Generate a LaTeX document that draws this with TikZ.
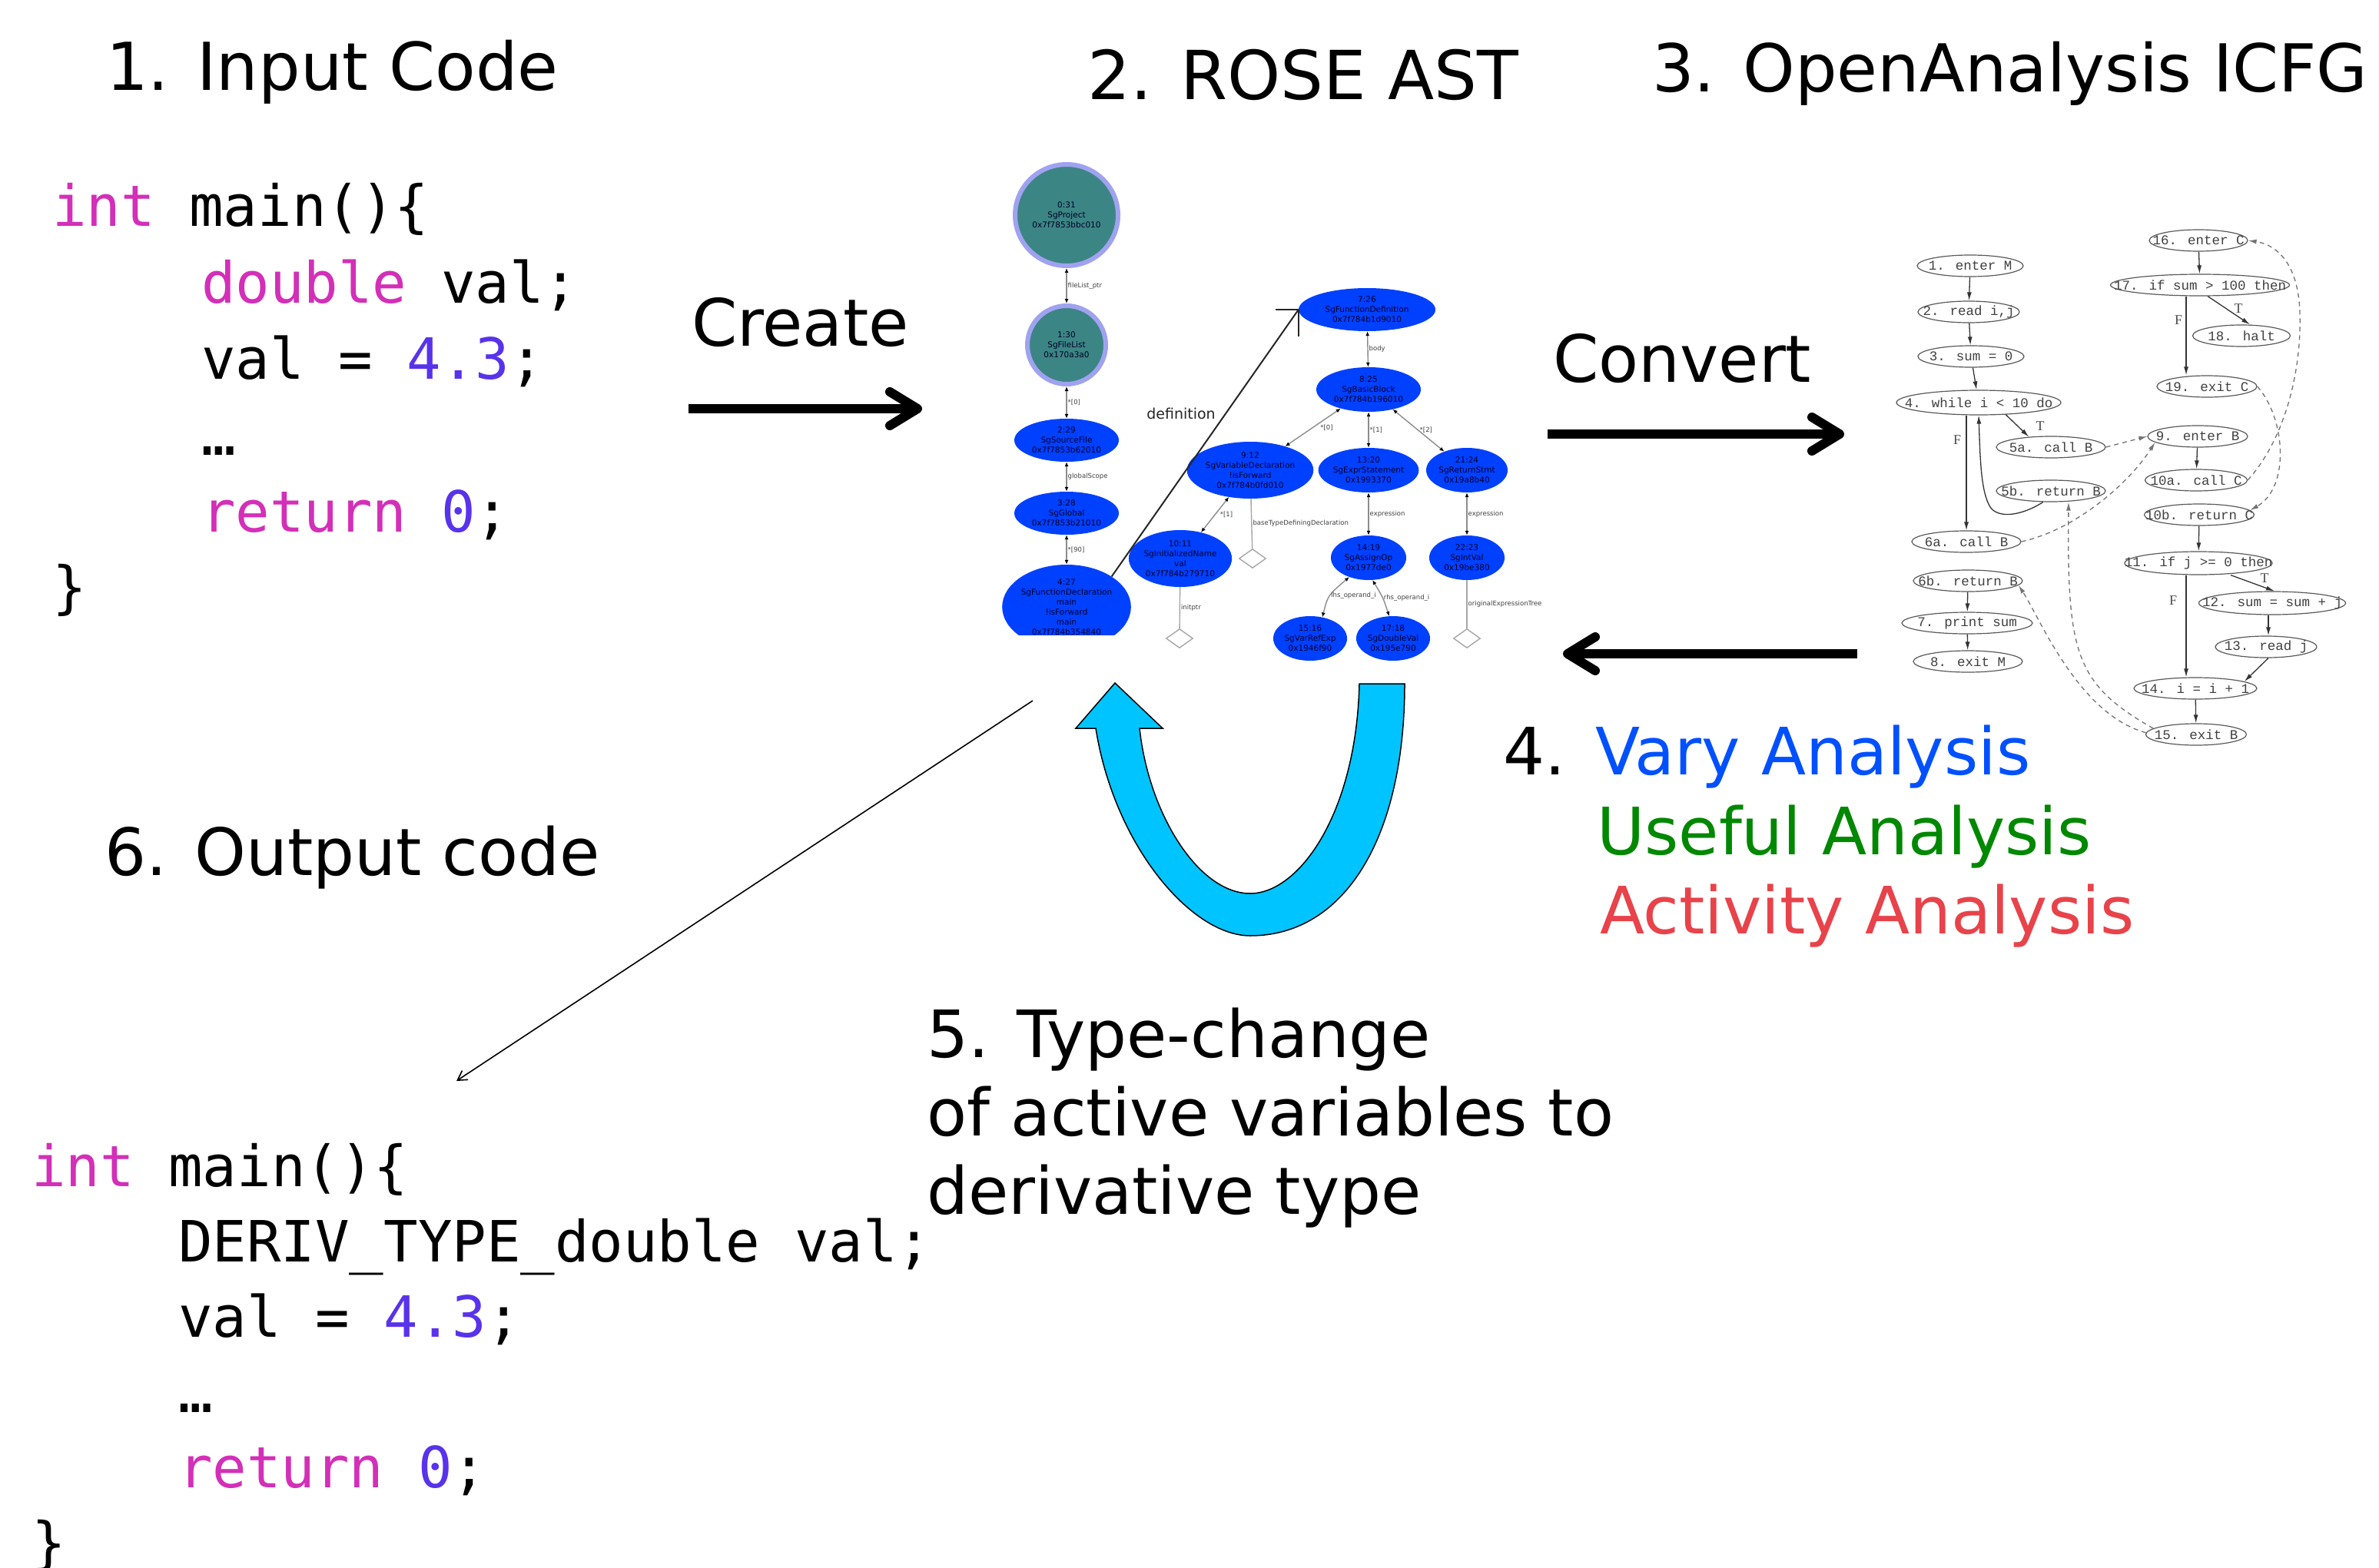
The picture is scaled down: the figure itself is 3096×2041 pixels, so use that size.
\documentclass[tikz,border=0pt]{standalone}
\usepackage{fontspec}
\setmainfont{DejaVu Sans}
\newfontfamily\codefont{DejaVu Sans Mono}
\newfontfamily\cfgfont{Liberation Mono}
\newfontfamily\tffont{Liberation Serif}
\usetikzlibrary{arrows.meta,shapes.geometric}

\definecolor{keyword}{RGB}{211,47,184}
\definecolor{number}{RGB}{88,51,235}
\definecolor{varyblue}{RGB}{0,80,255}
\definecolor{usefulgreen}{RGB}{0,136,0}
\definecolor{activityred}{RGB}{232,67,74}
\definecolor{astblue}{RGB}{0,64,255}
\definecolor{astteal}{RGB}{60,133,133}
\definecolor{asthalo}{RGB}{160,162,240}
\definecolor{loopcyan}{RGB}{0,196,255}

\tikzset{
  heading/.style={anchor=base west, inner sep=0pt, font=\fontsize{85}{100}\selectfont},
  codeline/.style={anchor=base west, inner sep=0pt, font=\codefont\fontsize{74}{90}\selectfont},
  bigarrow/.style={line width=12pt, -{Straight Barb[length=36pt,width=44pt,round]}},
  astnode/.style={ellipse, fill=astblue, inner sep=0pt, align=center, text=black!85!blue,
    font=\fontsize{10.5}{13}\selectfont},
  astroot/.style={astnode, fill=astteal, draw=asthalo, line width=6pt},
  astedge/.style={draw=black!45, line width=1.4pt,
    {Latex[length=6pt,width=5pt,black]}-{Latex[length=6pt,width=5pt,black]}},
  astleaf/.style={draw=black!35, line width=1.4pt},
  astlabel/.style={anchor=west, inner sep=1pt, text=black!75, font=\fontsize{8.5}{10}\selectfont},
  nullptr/.style={diamond, draw=black!35, line width=1.4pt, inner sep=0pt,
    minimum width=35pt, minimum height=25pt},
  defedge/.style={draw=black!85, line width=2pt},
  cfg/.style={ellipse, draw=black!65, line width=1.2pt, inner sep=0pt, minimum height=28pt,
    text=black!75, font=\cfgfont\fontsize{17.5}{20}\selectfont,
    execute at begin node={\hbox to 0pt\bgroup\hss}, execute at end node={\hss\egroup}},
  cfgarrow/.style={draw=black!80, line width=1.3pt, -{Latex[length=11pt,width=6pt]}},
  cfgcall/.style={cfgarrow, draw=black!55, dash pattern=on 6pt off 5pt},
  branch/.style={inner sep=0pt, text=black!70, font=\tffont\fontsize{18}{18}\selectfont},
}

\begin{document}
\begin{tikzpicture}[x=1pt,y=-1pt]
\useasboundingbox[fill=white] (0,0) rectangle (3096,2041);

% headings
\node[heading, font=\fontsize{86}{100}\selectfont] (ttlinput) at (138,118) {1. Input Code};
\node[heading, font=\fontsize{88}{100}\selectfont] (ttlast) at (1415,130) {2. ROSE AST};
\node[heading, font=\fontsize{86}{100}\selectfont] (ttlicfg) at (2150,120) {3. OpenAnalysis ICFG};
\node[heading] (create) at (900,450) {Create};
\node[heading] (convert) at (2021,497) {Convert};
\node[heading] (ttloutput) at (136,1139) {6. Output code};
\node[heading] (num4) at (1956,1008) {4.};
\node[heading, text=varyblue] (vary) at (2076,1008) {Vary Analysis};
\node[heading, text=usefulgreen] (useful) at (2078,1112) {Useful Analysis};
\node[heading, text=activityred] (activity) at (2082,1215) {Activity Analysis};
\node[heading] (tc1) at (1206,1376) {5. Type-change};
\node[heading] (tc2) at (1206,1478) {of active variables to};
\node[heading] (tc3) at (1206,1580) {derivative type};

% input code
\node[codeline] (in1) at (68,295) {\textcolor{keyword}{int} main()\{};
\node[codeline] (in2) at (262,394) {\textcolor{keyword}{double} val;};
\node[codeline] (in3) at (262,493) {val = \textcolor{number}{4.3};};
\node[codeline] (in4) at (262,592) {…};
\node[codeline] (in5) at (262,692) {\textcolor{keyword}{return} \textcolor{number}{0};};
\node[codeline] (in6) at (68,790) {\}};

% output code
\node[codeline] (out1) at (41,1544) {\textcolor{keyword}{int} main()\{};
\node[codeline] (out2) at (232,1642) {DERIV\_TYPE\_double val;};
\node[codeline] (out3) at (232,1740) {val = \textcolor{number}{4.3};};
\node[codeline] (out4) at (232,1838) {…};
\node[codeline] (out5) at (232,1936) {\textcolor{keyword}{return} \textcolor{number}{0};};
\node[codeline] (out6) at (41,2034) {\}};

% big arrows
\coordinate (createtail) at (896,532);
\coordinate (createhead) at (1200,532);
\coordinate (converttail) at (2014,565);
\coordinate (converthead) at (2400,565);
\coordinate (backtail) at (2417,851);
\coordinate (backhead) at (2034,851);
\draw[bigarrow] (createtail) -- (createhead);
\draw[bigarrow] (converttail) -- (converthead);
\draw[bigarrow] (backtail) -- (backhead);

\coordinate (astout) at (1344,912);
\coordinate (outcode) at (594,1407);
\draw[line width=1.6pt, -{Straight Barb[length=12pt,width=14pt]}] (astout) -- (outcode);

% ROSE AST
\begin{scope}[every node/.style={astnode}]
    \node[astroot, minimum width=134pt, minimum height=132pt] (n0) at (1388,280) {0:31\\SgProject\\0x7f7853bbc010};
    \node[astroot, minimum width=102pt, minimum height=102pt] (n1) at (1388,449) {1:30\\SgFileList\\0x170a3a0};
    \node[minimum width=136pt, minimum height=56pt] (n2) at (1388,573) {2:29\\SgSourceFile\\0x7f7853b62010};
    \node[minimum width=136pt, minimum height=56pt] (n3) at (1388,668) {3:28\\SgGlobal\\0x7f7853b21010};
    \node[minimum width=178pt, minimum height=56pt] (n7) at (1779,403) {7:26\\SgFunctionDefinition\\0x7f784b1d9010};
    \node[minimum width=136pt, minimum height=58pt] (n8) at (1781,507) {8:25\\SgBasicBlock\\0x7f784b196010};
    \node[minimum width=156pt, minimum height=74pt] (n9) at (1627,612) {9:12\\SgVariableDeclaration\\!isForward\\0x7f784b0fd010};
    \node[minimum width=128pt, minimum height=58pt] (n13) at (1781,612) {13:20\\SgExprStatement\\0x1993370};
    \node[minimum width=106pt, minimum height=58pt] (n21) at (1909,612) {21:24\\SgReturnStmt\\0x19a8b40};
    \node[minimum width=130pt, minimum height=74pt] (n10) at (1536,727) {10:11\\SgInitializedName\\val\\0x7f784b279710};
    \node[minimum width=98pt, minimum height=58pt] (n14) at (1781,726) {14:19\\SgAssignOp\\0x1977de0};
    \node[minimum width=98pt, minimum height=58pt] (n22) at (1909,726) {22:23\\SgIntVal\\0x19be380};
    \node[minimum width=96pt, minimum height=58pt] (n15) at (1705,831) {15:16\\SgVarRefExp\\0x1946f90};
    \node[minimum width=96pt, minimum height=58pt] (n17) at (1813,831) {17:18\\SgDoubleVal\\0x195e790};
    \node[nullptr, fill=none] (d9) at (1630,727) {};
    \node[nullptr, fill=none] (d10) at (1535,831) {};
    \node[nullptr, fill=none] (d22) at (1909,831) {};
\end{scope}
\begin{scope}
    \clip (1290,700) rectangle (1490,826);
    \node[astnode, minimum width=160pt, minimum height=110pt] (n4) at (1388,790) {4:27\\SgFunctionDeclaration\\main\\!isForward\\main\\0x7f784b354840};
\end{scope}

\path (n0) edge[astedge] node[astlabel] {fileList\_ptr} (n1)
      (n1) edge[astedge] node[astlabel] {*[0]} (n2)
      (n2) edge[astedge] node[astlabel] {globalScope} (n3)
      (n3) edge[astedge] node[astlabel] {*[90]} (n4)
      (n7) edge[astedge] node[astlabel] {body} (n8)
      (n8) edge[astedge] node[astlabel, xshift=8pt] {*[0]} (n9)
      (n8) edge[astedge] node[astlabel] {*[1]} (n13)
      (n8) edge[astedge] node[astlabel] {*[2]} (n21)
      (n9) edge[astedge] node[astlabel, xshift=5pt] {*[1]} (n10)
      (n13) edge[astedge] node[astlabel] {expression} (n14)
      (n21) edge[astedge] node[astlabel] {expression} (n22);
\path (n9) edge[astleaf] node[astlabel] {baseTypeDefiningDeclaration} (d9)
      (n10) edge[astleaf] node[astlabel] {initptr} (d10)
      (n22) edge[astleaf] node[astlabel] {originalExpressionTree} (d22);
\draw[astedge] (n14.225) .. controls (1728,775) .. (n15.60) node[astlabel, pos=0.5] {lhs\_operand\_i};
\draw[astedge] (n14.280) .. controls (1800,778) .. (n17.100) node[astlabel, pos=0.5] {rhs\_operand\_i};

\node[font=\fontsize{19}{22}\selectfont, text=black!85] (deflabel) at (1537,538) {definition};
\draw[defedge] (n4.34) -- (n7.west);
\draw[defedge] (n7.west) -- ++(-30,0);
\draw[defedge] (n7.west) -- ++(0,35);

% type-change loop
\fill[loopcyan, draw=black, line width=1.5pt]
    (1769,890) -- (1828,890)
    .. controls (1828,1090) and (1750,1218) .. (1627,1218)
    .. controls (1550,1218) and (1450,1100) .. (1426,948)
    -- (1400,948) -- (1451,889) -- (1513,948) -- (1483,948)
    .. controls (1495,1060) and (1560,1163) .. (1627,1163)
    .. controls (1690,1163) and (1765,1060) .. (1769,890) -- cycle;

% OpenAnalysis ICFG
\begin{scope}[every node/.style={cfg}]
    \node[minimum width=138pt] (c1) at (2564,346) {1. enter M};
    \node[minimum width=132pt] (c2) at (2562,406) {2. read i,j};
    \node[minimum width=138pt] (c3) at (2565,464) {3. sum = 0};
    \node[minimum width=214pt, minimum height=32pt] (c4) at (2575,524) {4. while i < 10 do};
    \node[minimum width=142pt] (c5a) at (2669,582) {5a. call B};
    \node[minimum width=142pt] (c5b) at (2669,639) {5b. return B};
    \node[minimum width=142pt] (c6a) at (2559,705) {6a. call B};
    \node[minimum width=142pt] (c6b) at (2561,756) {6b. return B};
    \node[minimum width=170pt] (c7) at (2560,811) {7. print sum};
    \node[minimum width=142pt] (c8) at (2561,861) {8. exit M};
    \node[minimum width=128pt] (c16) at (2861,313) {16. enter C};
    \node[minimum width=233pt] (c17) at (2863,371) {17. if sum > 100 then};
    \node[minimum width=127pt] (c18) at (2917,437) {18. halt};
    \node[minimum width=130pt] (c19) at (2872,503) {19. exit C};
    \node[minimum width=130pt] (c9) at (2860,568) {9. enter B};
    \node[minimum width=133pt] (c10a) at (2858,625) {10a. call C};
    \node[minimum width=143pt] (c10b) at (2862,670) {10b. return C};
    \node[minimum width=192pt, minimum height=30pt] (c11) at (2861,733) {11. if j >= 0 then};
    \node[minimum width=191pt, minimum height=30pt] (c12) at (2957,785) {12. sum = sum + j};
    \node[minimum width=132pt] (c13) at (2949,842) {13. read j};
    \node[minimum width=160pt] (c14) at (2857,896) {14. i = i + 1};
    \node[minimum width=131pt] (c15) at (2858,956) {15. exit B};
\end{scope}

\node[branch] (f4) at (2547,573) {F};
\node[branch] (t4) at (2655,555) {T};
\node[branch] (f17) at (2835,417) {F};
\node[branch] (t17) at (2913,402) {T};
\node[branch] (f11) at (2828,782) {F};
\node[branch] (t11) at (2947,753) {T};

\draw[cfgarrow] (c1) -- (c2);
\draw[cfgarrow] (c2) -- (c3);
\draw[cfgarrow] (c3) -- (c4);
\draw[cfgarrow] (c4.south -| c6a.north) -- (c6a.north);
\draw[cfgarrow] (c4.336) -- (c5a.155);
\draw[cfgarrow] (c5b.235) .. controls (2630,672) and (2600,675) .. (2590,660)
    .. controls (2578,640) and (2577,600) .. (c4.south);
\draw[cfgarrow] (c6b) -- (c7);
\draw[cfgarrow] (c7) -- (c8);
\draw[cfgarrow] (c16) -- (c17);
\draw[cfgarrow] ([xshift=-18pt]c17.south) -- ([xshift=-27pt]c19.north);
\draw[cfgarrow] ([xshift=10pt]c17.south) -- ([xshift=11pt]c18.north);
\draw[cfgarrow] (c9) -- (c10a);
\draw[cfgarrow] (c10b) -- (c11);
\draw[cfgarrow] ([xshift=-16pt]c11.south) -- ([xshift=-12pt]c14.north);
\draw[cfgarrow] ([xshift=42pt]c11.south) -- ([xshift=3pt]c12.north);
\draw[cfgarrow] ([xshift=-5pt]c12.south) -- ([xshift=3pt]c13.north);
\draw[cfgarrow] ([xshift=3pt]c13.south) -- (c14.8);
\draw[cfgarrow] (c14) -- (c15);

\draw[cfgcall] (c5a.east) -- (c9.west);
\draw[cfgcall] (c6a.east) .. controls (2700,690) and (2770,630) .. (c9.188);
\draw[cfgcall] (c10a.east) .. controls (2975,570) and (2995,480) .. (2993,410)
    .. controls (2992,340) and (2960,318) .. (c16.east);
\draw[cfgcall] (c19.east) .. controls (2975,545) and (2980,635) .. (c10b.5);
\draw[cfgcall] (c15.172) .. controls (2700,890) and (2690,850) .. ([xshift=23pt]c5b.south);
\draw[cfgcall] (c15.178) .. controls (2705,930) and (2655,805) .. (c6b.355);
\end{tikzpicture}
\end{document}
